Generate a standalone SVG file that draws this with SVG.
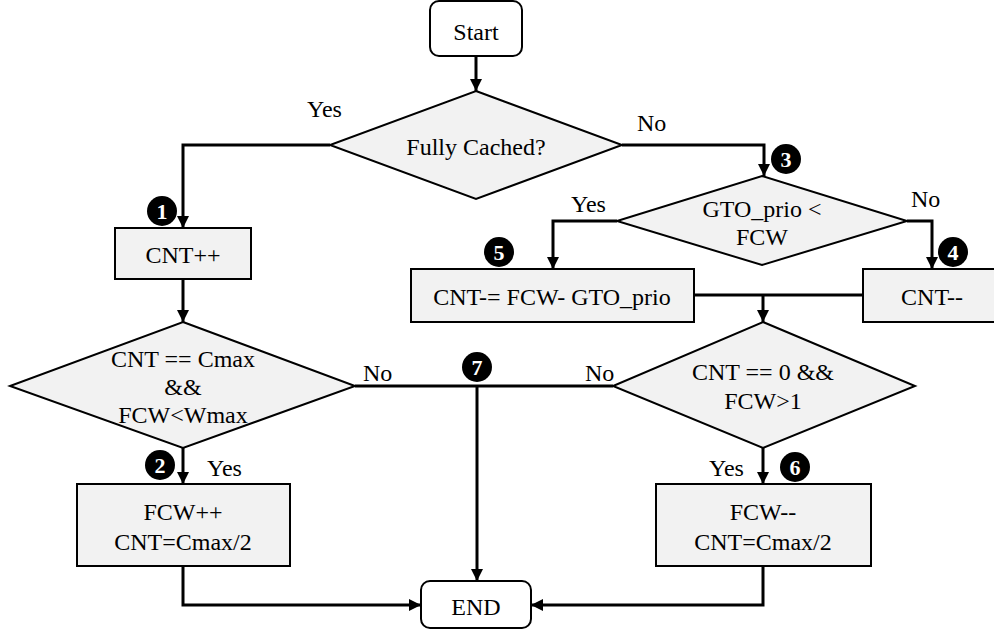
<svg xmlns="http://www.w3.org/2000/svg" width="994" height="634" viewBox="0 0 994 634" font-family="'Liberation Serif', 'DejaVu Serif', serif">
<defs>
<marker id="ah" markerUnits="userSpaceOnUse" markerWidth="12" markerHeight="12" refX="12" refY="6" orient="auto">
<path d="M0,0 L12,6 L0,12 z" fill="#000"/>
</marker>
<style>
text{font-family:'Liberation Serif','DejaVu Serif',serif;font-size:24px;fill:#000;text-anchor:middle}
.box{fill:#f2f2f2;stroke:#000;stroke-width:2}
.term{fill:#fff;stroke:#000;stroke-width:2}
.c{fill:none;stroke:#000;stroke-width:3}
.ca{fill:none;stroke:#000;stroke-width:3;marker-end:url(#ah)}
.lbl{text-anchor:start}
.num circle{fill:#000}
.num text{fill:#fff;font-weight:bold;font-size:22px}
</style>
</defs>
<rect width="994" height="634" fill="#fff"/>
<g id="connectors">
<path class="ca" d="M476,56 V91"/>
<path class="ca" d="M330,145 H183 V228"/>
<path class="ca" d="M622,145 H764 V176"/>
<path class="ca" d="M183,279 V322"/>
<path class="ca" d="M617,221 H553 V269"/>
<path class="ca" d="M907,221 H932 V269"/>
<path class="c" d="M694,295 H863"/>
<path class="ca" d="M763,295 V322"/>
<path class="c" d="M355,386 H613"/>
<path class="ca" d="M477,386 V581"/>
<path class="ca" d="M183,448 V484"/>
<path class="ca" d="M763,448 V484"/>
<path class="ca" d="M183,566 V605 H421"/>
<path class="ca" d="M763,566 V605 H531"/>
</g>
<g id="labels">
<text class="lbl" x="307" y="117">Yes</text>
<text class="lbl" x="637" y="131">No</text>
<text class="lbl" x="571" y="212">Yes</text>
<text class="lbl" x="911" y="207">No</text>
<text class="lbl" x="363" y="381">No</text>
<text class="lbl" x="585" y="381">No</text>
<text class="lbl" x="207" y="476">Yes</text>
<text class="lbl" x="709" y="476">Yes</text>
</g>
<g id="start"><rect class="term" x="430" y="1" width="92" height="55" rx="9"/><text x="476" y="40">Start</text></g>
<g id="fully-cached"><polygon class="box" points="476,91 622,145 476,199 330,145"/><text x="476" y="155">Fully Cached?</text></g>
<g id="cnt-inc"><rect class="box" x="115" y="228" width="136" height="51"/><text x="183" y="263">CNT++</text></g>
<g id="gto-prio"><polygon class="box" points="762,176 907,221 762,265 617,221"/><text x="762" y="217">GTO_prio &lt;</text><text x="762" y="245">FCW</text></g>
<g id="cnt-sub"><rect class="box" x="411" y="269" width="283" height="53"/><text x="552" y="305">CNT-= FCW- GTO_prio</text></g>
<g id="cnt-dec"><rect class="box" x="863" y="269" width="140" height="53"/><text x="932" y="305">CNT--</text></g>
<g id="cnt-cmax"><polygon class="box" points="183,322 355,386 183,448 10,386"/><text x="183" y="367">CNT == Cmax</text><text x="183" y="395">&amp;&amp;</text><text x="183" y="423">FCW&lt;Wmax</text></g>
<g id="cnt-zero"><polygon class="box" points="763,322 915,386 763,448 613,386"/><text x="763" y="380">CNT == 0 &amp;&amp;</text><text x="763" y="409">FCW&gt;1</text></g>
<g id="fcw-inc"><rect class="box" x="77" y="484" width="213" height="82"/><text x="183" y="520">FCW++</text><text x="183" y="550">CNT=Cmax/2</text></g>
<g id="fcw-dec"><rect class="box" x="656" y="484" width="215" height="82"/><text x="763" y="520">FCW--</text><text x="763" y="550">CNT=Cmax/2</text></g>
<g id="end"><rect class="term" x="421" y="581" width="110" height="47" rx="9"/><text x="476" y="615">END</text></g>
<g id="n1" class="num"><circle cx="162" cy="211" r="15"/><text x="162" y="219">1</text></g>
<g id="n2" class="num"><circle cx="160" cy="465" r="15"/><text x="160" y="473">2</text></g>
<g id="n3" class="num"><circle cx="786" cy="159" r="15"/><text x="786" y="167">3</text></g>
<g id="n4" class="num"><circle cx="953" cy="252" r="15"/><text x="953" y="260">4</text></g>
<g id="n5" class="num"><circle cx="499" cy="252" r="15"/><text x="499" y="260">5</text></g>
<g id="n6" class="num"><circle cx="795" cy="467" r="15"/><text x="795" y="475">6</text></g>
<g id="n7" class="num"><circle cx="477" cy="367" r="15"/><text x="477" y="375">7</text></g>
</svg>
